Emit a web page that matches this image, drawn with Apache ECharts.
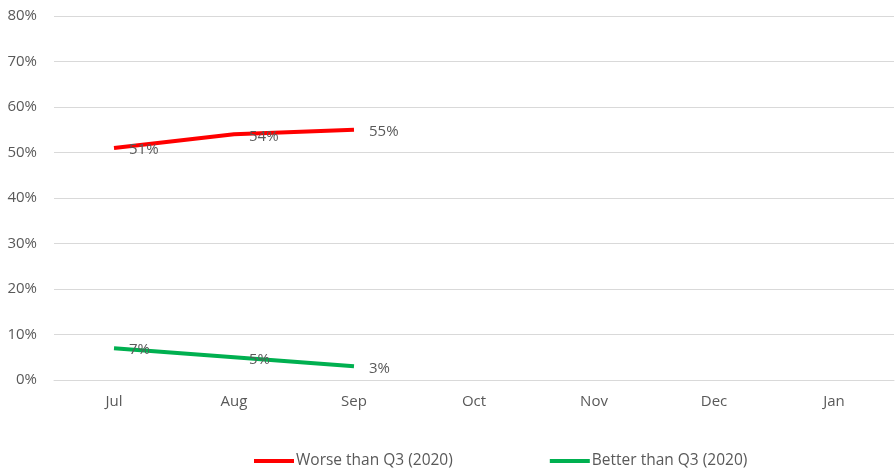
<!DOCTYPE html>
<html>
<head>
<meta charset="utf-8">
<script src="https://cdn.jsdelivr.net/npm/echarts@6/dist/echarts.min.js"></script>
<style>
    html, body { margin: 0; padding: 0; background: #fff; }
    #chart { width: 895px; height: 471px; }
</style>
</head>
<body>
<div id="chart"></div>
<script>
    // categories and values
    var months = ['Jul', 'Aug', 'Sep', 'Oct', 'Nov', 'Dec', 'Jan'];
    var worse = [51, 54, 55];
    var better = [7, 5, 3];
    var worseName = 'Worse than Q3 (2020)';
    var betterName = 'Better than Q3 (2020)';

    var chart = echarts.init(document.getElementById('chart'));
    var font = '"Open Sans", "Liberation Sans", sans-serif';
    var txt = '#595959';

    var label = {
        show: true,
        position: 'right',
        distance: 15,
        offset: [0, 2],
        color: txt,
        fontFamily: font,
        fontSize: 15,
        formatter: '{c}%'
    };

    var option = {
        animation: false,
        grid: { left: 54, right: 1, top: 16, bottom: 91 },
        legend: {
            left: 254,
            top: 453,
            padding: 0,
            itemGap: 97,
            itemWidth: 40,
            itemHeight: 4,
            icon: 'rect',
            textStyle: { color: txt, fontFamily: font, fontSize: 15.5, padding: [0, 0, 0, -3] },
            data: [worseName, betterName]
        },
        xAxis: {
            type: 'category',
            data: months,
            axisLine: { show: true, lineStyle: { color: '#d9d9d9' } },
            axisTick: { show: false },
            axisLabel: { color: txt, fontFamily: font, fontSize: 15, margin: 14 }
        },
        yAxis: {
            type: 'value',
            min: 0,
            max: 80,
            interval: 10,
            axisLine: { show: false },
            axisTick: { show: false },
            splitLine: { lineStyle: { color: '#d9d9d9' } },
            axisLabel: { color: txt, fontFamily: font, fontSize: 15, margin: 17, formatter: '{value}%' }
        },
        series: [
            {
                name: worseName,
                type: 'line',
                data: worse,
                symbol: 'circle',
                symbolSize: 0,
                lineStyle: { width: 4, color: '#ff0000' },
                itemStyle: { color: '#ff0000' },
                label: label
            },
            {
                name: betterName,
                type: 'line',
                data: better,
                symbol: 'circle',
                symbolSize: 0,
                lineStyle: { width: 4, color: '#00b050' },
                itemStyle: { color: '#00b050' },
                label: label
            }
        ]
    };

    chart.setOption(option);
</script>
</body>
</html>
